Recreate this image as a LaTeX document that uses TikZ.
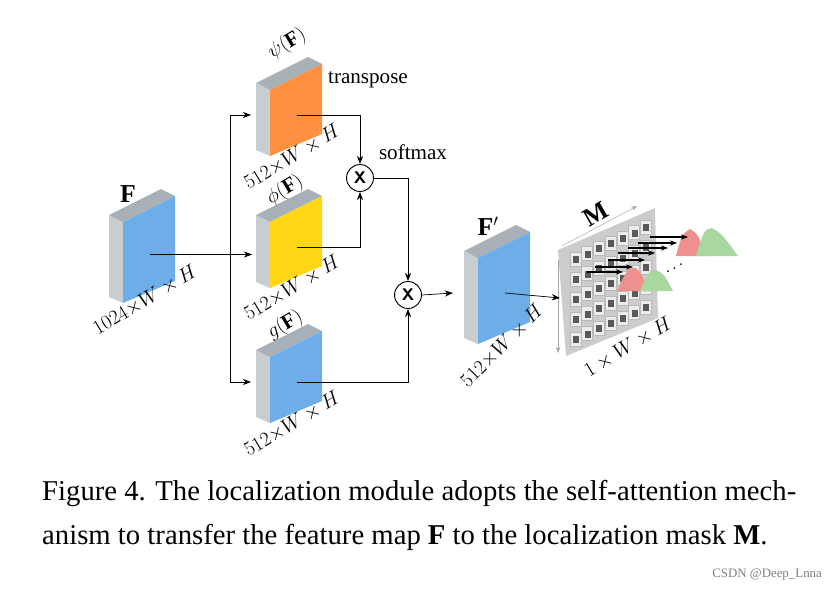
\documentclass[tikz,border=0pt]{standalone}
\usepackage{fontspec}
\setmainfont{Liberation Serif}
\usepackage{amsmath}
\usetikzlibrary{arrows.meta, positioning, calc}
\definecolor{mapblue}{HTML}{6EAEE8}
\definecolor{maporange}{HTML}{FF9040}
\definecolor{mapyellow}{HTML}{FFD614}
\definecolor{sidegray}{HTML}{C8CDD2}
\definecolor{topgray}{HTML}{A8B0B8}
\definecolor{bumpred}{HTML}{EE9090}
\definecolor{bumpgreen}{HTML}{A8D8A0}

% feature map block: name, x, y (front top-left), colour, height
\newcommand{\fmap}[5]{%
  \fill[sidegray] (#2,#3) -- (#2-14,#3-7) -- (#2-14,#3+#5-6) -- (#2,#3+#5) -- cycle;
  \fill[topgray] (#2,#3) -- (#2-14,#3-7) -- (#2+38,#3-33) -- (#2+52,#3-26) -- cycle;
  \fill[#4] (#2,#3) -- (#2+52,#3-26) -- (#2+52,#3+#5-22) -- (#2,#3+#5) -- cycle;
  \coordinate (#1) at (#2+27,#3+#5/2-8);
}

\begin{document}
\begin{tikzpicture}[
  x=0.03cm, y=-0.03cm,
  arr/.style={-{Stealth[length=7pt]}, semithick},
  mul/.style={circle, draw, thick, minimum size=23pt, inner sep=0pt, font=\sffamily\bfseries\Large},
  lbl/.style={font=\fontsize{18}{20}\selectfont},
  dim/.style={lbl, rotate=31, inner sep=0pt},
  big/.style={font=\fontsize{22}{22}\selectfont}
]
  \useasboundingbox (0,0) rectangle (839,591);

  \fmap{feat}{123}{222}{mapblue}{81}
  \fmap{psi}{270}{90}{maporange}{66}
  \fmap{phi}{270}{222}{mapyellow}{66}
  \fmap{gee}{270}{357}{mapblue}{66}
  \fmap{featp}{478}{258}{mapblue}{86}

  \node[mul] (mulA) at (360,178) {X};
  \node[mul] (mulB) at (408,295) {X};

  % mask M
  \fill[gray!40] (558,250) -- (655,208) -- (658,318) -- (566,356) -- cycle;
  \foreach \r in {0,...,4}
    \foreach \c in {0,...,6}{
      \fill[gray!15, draw=gray!55] ($(570,252)+(\c*11.7,-\c*5.3)+(0,\r*20)$) rectangle ++(11,14);
      \fill[gray!70!black] ($(573,256)+(\c*11.7,-\c*5.3)+(0,\r*20)$) rectangle ++(6,7);
    }
  \coordinate (mask) at (560,298);
  \draw[gray!70, -{Stealth[length=5pt]}] (562,246) -- (637,206);
  \draw[gray!70, -{Stealth[length=5pt]}] (558,260) -- (558,353);
  \fill[bumpred] (617,291) .. controls (625,272) and (630,266) .. (636,268)
    .. controls (642,275) .. (650,291) -- cycle;
  \fill[bumpgreen] (640,291) .. controls (648,272) .. (656,270)
    .. controls (664,274) .. (673,291) -- cycle;
  \fill[bumpred] (676,256) .. controls (682,234) .. (690,229)
    .. controls (698,234) .. (706,256) -- cycle;
  \fill[bumpgreen] (696,256) .. controls (704,230) .. (712,228)
    .. controls (722,234) .. (738,256) -- cycle;
  \foreach \y/\xs/\xe in {272/587/623, 267/595/633, 260/608/645, 253/618/655, 248/628/668, 243/638/677, 237/650/688}
    \draw[-{Stealth[length=6pt]}, very thick] (\xs,\y) -- (\xe,\y);
  \node[font=\Large, rotate=30] (dots) at (676,268) {$\cdots$};

  % connectors
  \draw[arr] (feat) -- (feat -| 252,0);
  \coordinate (split) at (230,254);
  \draw[arr] (split) |- ($(psi)+(-46,0)$);
  \draw[arr] (split) |- ($(gee)+(-46,0)$);
  \draw[arr] (psi) -| (mulA.north);
  \draw[arr] (phi) -| (mulA.south);
  \draw[arr] (mulA.east) -| (mulB.north);
  \draw[arr] (gee) -| (mulB.south);
  \draw[arr] (mulB.east) -- ($(featp)+(-52,0)$);
  \draw[arr] (featp) -- (mask);

  % labels
  \node[lbl] at (368,80) {transpose};
  \node[lbl] at (413,152) {softmax};
  \node[big] at (128,194) {$\mathbf{F}$};
  \node[big] at (488,226) {$\mathbf{F}'$};
  \node[big, rotate=30] at (596,214) {$\mathbf{M}$};
  \node[dim] at (287,44) {$\psi(\mathbf{F})$};
  \node[dim] at (285,190) {$\phi(\mathbf{F})$};
  \node[dim] at (285,325) {$g(\mathbf{F})$};
  \node[dim] at (145,300) {$1024{\times}W\times H$};
  \node[dim] at (292,157) {$512{\times}W\times H$};
  \node[dim] at (292,288) {$512{\times}W\times H$};
  \node[dim] at (292,424) {$512{\times}W\times H$};
  \node[lbl, rotate=45, inner sep=0pt] at (502,346) {$512{\times}W\times H$};
  \node[dim] at (628,347) {$1\times W\times H$};

  \node[anchor=north west, align=left, inner sep=0pt,
        font=\fontsize{24.5}{38}\selectfont] (caption) at (42,480)
    {Figure 4. The localization module adopts the self-attention mech-\\
     anism to transfer the feature map $\mathbf{F}$ to the localization mask $\mathbf{M}$.};
  \node[anchor=east, font=\fontsize{11}{12}\selectfont, text=gray] (mark) at (826,575) {CSDN @Deep\_Lnna};
\end{tikzpicture}
\end{document}
